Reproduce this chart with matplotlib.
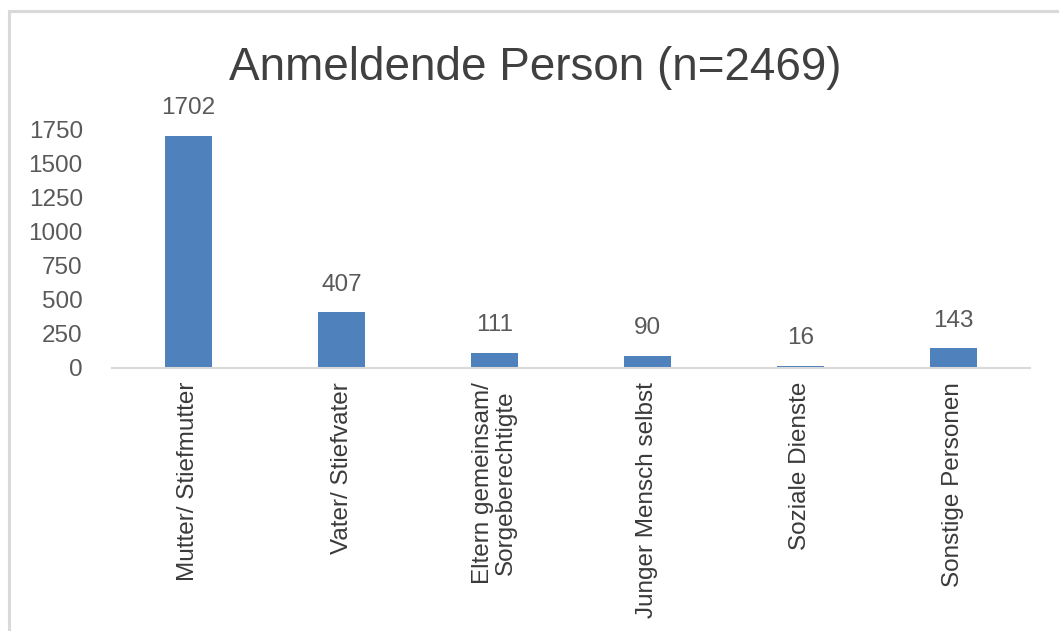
import matplotlib
matplotlib.use("Agg")
import matplotlib.pyplot as plt
from matplotlib.patches import Rectangle

categories = ["Mutter/ Stiefmutter", "Vater/ Stiefvater", "Eltern gemeinsam/\nSorgeberechtigte",
              "Junger Mensch selbst", "Soziale Dienste", "Sonstige Personen"]
values = [1702, 407, 111, 90, 16, 143]
yticks = [0, 250, 500, 750, 1000, 1250, 1500, 1750]
title = "Anmeldende Person (n=2469)"

W, H = 1059, 631
fig = plt.figure(figsize=(W / 100, H / 100), dpi=100)
fig.patch.set_facecolor("white")
plt.rcParams["font.family"] = ["Liberation Sans", "DejaVu Sans"]

# outer border
fig.add_artist(Rectangle((9 / W, -0.05), 1.1, 1 - 11 / H + 0.05, transform=fig.transFigure,
                         fill=False, edgecolor="#d9d9d9", linewidth=2.2))

ax = fig.add_axes([112 / W, 1 - 368 / H, (1030 - 112) / W, (368 - 129) / H])
x = list(range(len(categories)))
ax.bar(x, values, width=0.31, color="#4F81BD")
ax.set_xlim(-0.5, len(categories) - 0.5)
ax.set_ylim(0, 1750)
ax.set_yticks(yticks)
ax.set_yticklabels([str(t) for t in yticks], fontsize=17.5, color="#595959")
ax.set_xticks(x)
ax.set_xticklabels(categories, rotation=90, fontsize=17.5, color="#3a3a3a",
                   ha="center", va="top", multialignment="center", linespacing=1.0)
ax.tick_params(axis="both", length=0)
ax.tick_params(axis="x", pad=10)
ax.tick_params(axis="y", pad=21)
for s in ["top", "right", "left"]:
    ax.spines[s].set_visible(False)
ax.spines["bottom"].set_color("#d9d9d9")
ax.spines["bottom"].set_linewidth(1.5)

for xi, v in zip(x, values):
    ax.annotate(str(v), (xi, v), xytext=(0, 12), textcoords="offset points",
                ha="center", va="bottom", fontsize=17.5, color="#595959", clip_on=False)

fig.text(535 / W, 1 - 68 / H, title, ha="center", va="center", fontsize=33, color="#404040")

fig.savefig("out.png", dpi=100, facecolor="white")
